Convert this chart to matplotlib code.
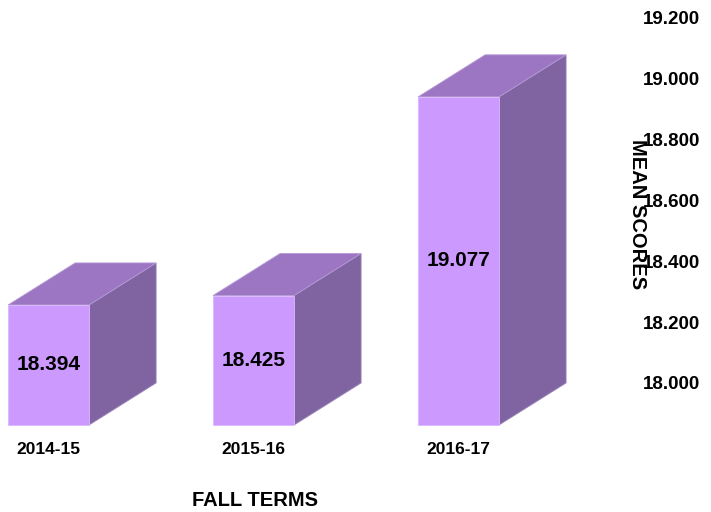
import matplotlib
matplotlib.use('Agg')
import matplotlib.pyplot as plt
from matplotlib.patches import Polygon

plt.rcParams['font.family'] = ['Liberation Sans', 'DejaVu Sans']
plt.rcParams['font.weight'] = 'bold'

# данные
terms = ['2014-15', '2015-16', '2016-17']
scores = [18.394, 18.425, 19.077]
yticks = [18.0, 18.2, 18.4, 18.6, 18.8, 19.0, 19.2]

# цвета граней
c_front = '#cc99ff'
c_top = '#9d76c3'
c_side = '#8064a2'

base = 18.0
w = 0.395      # ширина передней грани
dx = 0.327     # глубина по x
dy = 0.138     # глубина по y

fig = plt.figure(figsize=(7.11, 5.12), dpi=100)
ax = fig.add_axes([0, 87 / 512, 600 / 711, 425 / 512])
ax.set_xlim(-0.237, 2.69)
ax.set_ylim(base, 19.395)

for i, v in enumerate(scores):
    x0, x1 = i - w / 2, i + w / 2
    side = [(x1, base), (x1 + dx, base + dy), (x1 + dx, v + dy), (x1, v)]
    top = [(x0, v), (x1, v), (x1 + dx, v + dy), (x0 + dx, v + dy)]
    front = [(x0, base), (x1, base), (x1, v), (x0, v)]
    ax.add_patch(Polygon(side, closed=True, facecolor=c_side, edgecolor='#9a86b8', lw=0.6, clip_on=False))
    ax.add_patch(Polygon(top, closed=True, facecolor=c_top, edgecolor='#b59ad6', lw=0.6, clip_on=False))
    ax.add_patch(Polygon(front, closed=True, facecolor=c_front, edgecolor='#d9b8ff', lw=0.6, clip_on=False))
    ax.text(i, base + (v - base) / 2, f'{v:.3f}', ha='center', va='center',
            fontsize=15, fontweight='bold', color='black')

ax.set_xticks(range(len(terms)))
ax.set_xticklabels(terms, fontsize=12.5, fontweight='bold')
ax.tick_params(axis='x', length=0, pad=12)
ax.set_yticks([])
for s in ax.spines.values():
    s.set_visible(False)

# правая ось сдвинута на глубину
ax2 = ax.twinx()
ax2.set_ylim(base - dy, 19.395 - dy)
ax2.set_yticks(yticks)
ax2.set_yticklabels([f'{t:.3f}' for t in yticks], fontsize=13.5, fontweight='bold')
ax2.tick_params(axis='y', length=0, pad=31)
for s in ax2.spines.values():
    s.set_visible(False)

fig.text(255 / 711, 12 / 512, 'FALL TERMS', ha='center', va='center',
         fontsize=14.5, fontweight='bold')
fig.text(637 / 711, (512 - 214) / 512, 'MEAN SCORES', ha='center', va='center',
         rotation=270, fontsize=14.5, fontweight='bold')

plt.savefig('out.png', dpi=100)
